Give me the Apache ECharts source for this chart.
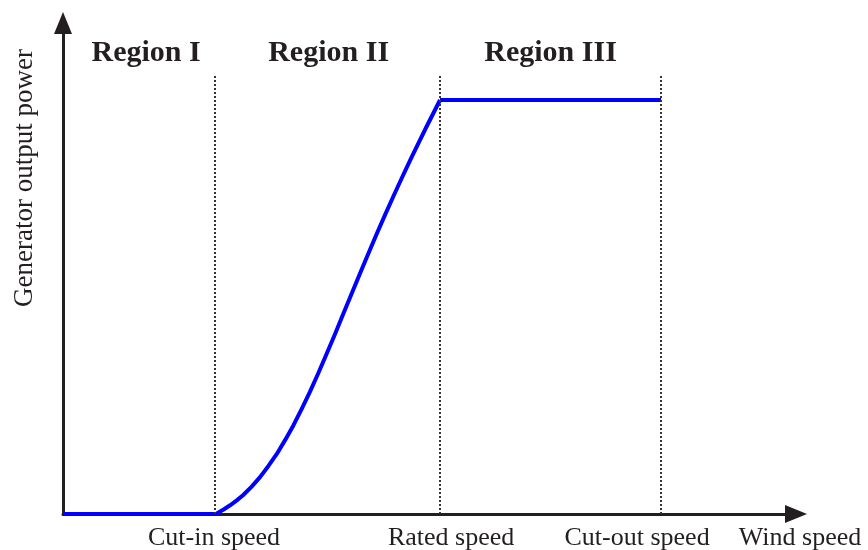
<!DOCTYPE html>
<html>
<head>
<meta charset="utf-8">
<script src="https://cdn.jsdelivr.net/npm/echarts@6/dist/echarts.min.js"></script>
<style>html,body{margin:0;padding:0;background:#fff;}#chart{width:868px;height:550px;}</style>
</head>
<body>
<div id="chart"></div>
<script>
// wind speed (arbitrary units) and normalized power
var xMax = 30.58;
var yMax = 1.186;
var regionIPower = [[0, 0], [6.38, 0]];
var regionIICurve = [[6.38, 0], [6.70, 0.011], [6.97, 0.021], [7.25, 0.033], [7.52, 0.046], [7.87, 0.066], [8.22, 0.089], [8.57, 0.116], [8.92, 0.145], [9.27, 0.179], [9.61, 0.214], [9.96, 0.254], [10.30, 0.295], [10.65, 0.340], [11.00, 0.387], [11.35, 0.435], [11.69, 0.483], [12.04, 0.532], [12.39, 0.581], [12.74, 0.629], [13.09, 0.677], [13.44, 0.723], [13.78, 0.767], [14.13, 0.811], [14.48, 0.854], [14.83, 0.896], [15.17, 0.936], [15.45, 0.968], [15.73, 1.0]];
var regionIIIPower = [[15.73, 1.0], [24.95, 1.0]];
var tickValues = [6.3, 16.19, 23.95];
var tickLabels = ['Cut-in speed', 'Rated speed', 'Cut-out speed'];
var regionNames = ['Region I', 'Region II', 'Region III'];
var regionBounds = [[0, 6.35], [6.35, 15.73], [15.73, 24.95]];
var dividerValues = [6.35, 15.73, 24.95];
var dividerTop = 1.06;
var xName = 'Wind speed';
var yName = 'Generator output power';

var FONT = "'Liberation Serif', 'Times New Roman', serif";
var INK = '#231f20';
var chart = echarts.init(document.getElementById('chart'));

var areaData = regionNames.map(function (n, i) {
  return [{
    name: n, xAxis: regionBounds[i][0], yAxis: 0,
    label: { offset: [i === 0 ? 7 : (i === 1 ? 1 : 0), 0] }
  }, { xAxis: regionBounds[i][1], yAxis: yMax }];
});
var lineData = dividerValues.map(function (v) {
  return [{ coord: [v, 0] }, { coord: [v, dividerTop] }];
});

var lineStyle = { color: '#0000ff', width: 4, join: 'round' };
chart.setOption({
  animation: false,
  grid: { left: 63, right: 72, top: 23, bottom: 36, outerBoundsMode: 'none', containLabel: false },
  xAxis: {
    type: 'value', min: 0, max: xMax,
    name: xName, nameLocation: 'end', nameGap: 4,
    nameTextStyle: { fontFamily: FONT, fontSize: 26, color: INK, align: 'center', verticalAlign: 'top', padding: [11, 0, 0, 0] },
    axisLine: { show: true, lineStyle: { color: INK, width: 3 }, symbol: ['none', 'triangle'], symbolSize: [18, 22] },
    axisTick: { show: false },
    splitLine: { show: false },
    axisLabel: {
      customValues: tickValues, margin: 11,
      fontFamily: FONT, fontSize: 26, color: INK,
      formatter: function (v) {
        var best = 0;
        for (var i = 0; i < tickValues.length; i++) if (Math.abs(tickValues[i] - v) < Math.abs(tickValues[best] - v)) best = i;
        return tickLabels[best];
      }
    }
  },
  yAxis: {
    type: 'value', min: 0, max: yMax,
    axisLine: { show: true, lineStyle: { color: INK, width: 3 }, symbol: ['none', 'triangle'], symbolSize: [18, 22] },
    axisTick: { show: false }, axisLabel: { show: false }, splitLine: { show: false }
  },
  graphic: [{
    type: 'text', x: 25, y: 178, rotation: Math.PI / 2,
    style: { text: yName, fontFamily: FONT, fontSize: 27, fill: INK, align: 'center', verticalAlign: 'middle' }
  }],
  series: [
    { type: 'line', data: regionIPower, showSymbol: false, lineStyle: lineStyle, z: 3,
      markArea: { silent: true, itemStyle: { color: 'rgba(0,0,0,0)' },
        label: { show: true, position: 'insideTop', distance: 15, fontFamily: FONT, fontSize: 30, fontWeight: 'bold', color: INK },
        data: areaData },
      markLine: { silent: true, symbol: ['none', 'none'], label: { show: false },
        lineStyle: { color: '#333', width: 2, type: [2, 2] }, data: lineData } },
    { type: 'line', data: regionIICurve, showSymbol: false, smooth: false, lineStyle: lineStyle, z: 3 },
    { type: 'line', data: regionIIIPower, showSymbol: false, lineStyle: lineStyle, z: 3 }
  ]
});
</script>
</body>
</html>
